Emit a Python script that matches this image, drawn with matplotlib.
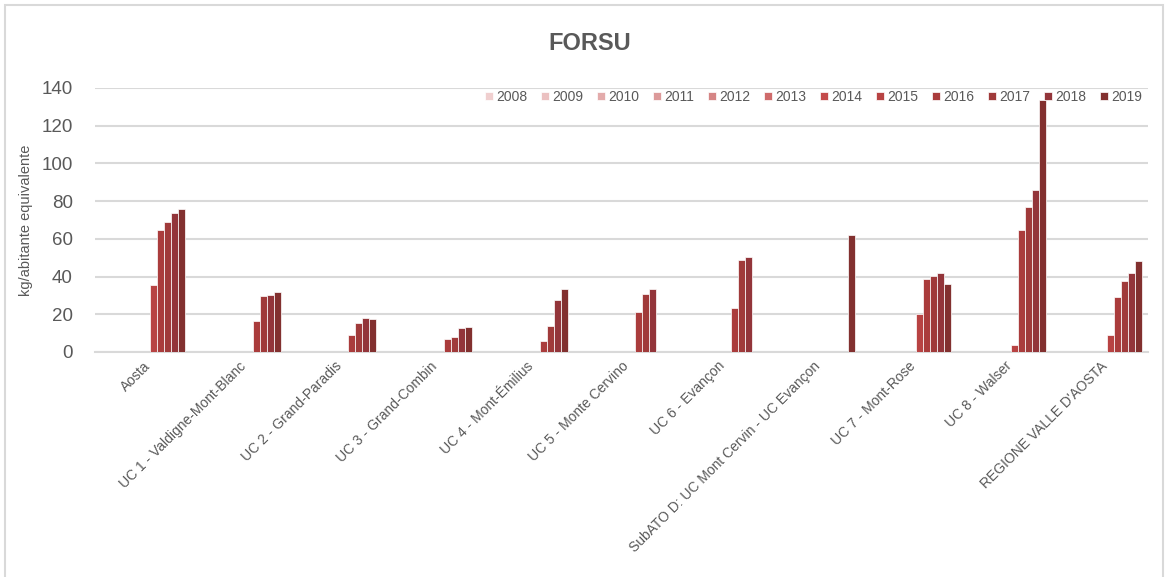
import numpy as np
import matplotlib
matplotlib.use('Agg')
import matplotlib.pyplot as plt
from matplotlib.patches import Rectangle

plt.rcParams['font.family'] = ['Liberation Sans Narrow', 'Liberation Sans', 'DejaVu Sans']

# categorie
zone = ["Aosta", "UC 1 - Valdigne-Mont-Blanc", "UC 2 - Grand-Paradis", "UC 3 - Grand-Combin",
        "UC 4 - Mont-Émilius", "UC 5 - Monte Cervino", "UC 6 - Evançon",
        "SubATO D: UC Mont Cervin - UC Evançon", "UC 7 - Mont-Rose", "UC 8 - Walser",
        "REGIONE VALLE D'AOSTA"]
anni = ['2008', '2009', '2010', '2011', '2012', '2013', '2014',
        '2015', '2016', '2017', '2018', '2019']

# kg/abitante equivalente
v2008 = [0, 0, 0, 0, 0, 0, 0, 0, 0, 0, 0]
v2009 = [0, 0, 0, 0, 0, 0, 0, 0, 0, 0, 0]
v2010 = [0, 0, 0, 0, 0, 0, 0, 0, 0, 0, 0]
v2011 = [0, 0, 0, 0, 0, 0, 0, 0, 0, 0, 0]
v2012 = [0, 0, 0, 0, 0, 0, 0, 0, 0, 0, 0]
v2013 = [0, 0, 0, 0, 0, 0, 0, 0, 0, 0, 0]
v2014 = [0, 0, 0, 0, 0, 0, 0, 0, 0, 0, 0]
v2015 = [35.3, 0, 0, 0, 0, 0, 0, 0, 20.0, 3.6, 9.2]
v2016 = [64.5, 16.4, 8.8, 6.9, 5.8, 21.2, 23.5, 0, 38.5, 64.7, 29.1]
v2017 = [69.2, 29.5, 15.4, 8.1, 13.9, 30.8, 49.0, 0, 40.3, 77.1, 37.4]
v2018 = [73.9, 30.0, 18.2, 12.9, 27.7, 33.6, 50.4, 0, 42.1, 86.0, 42.1]
v2019 = [75.8, 31.8, 17.7, 13.4, 33.6, 0, 0, 62.2, 36.3, 133.9, 48.5]
valori = [v2008, v2009, v2010, v2011, v2012, v2013, v2014,
          v2015, v2016, v2017, v2018, v2019]

colori = ['#F0CFCF', '#EBC1C1', '#E3ABAB', '#DC9A9A', '#D58585', '#CF6B6B',
          '#C44B4B', '#B84343', '#AA3C3C', '#A03A3A', '#93353A', '#82302F']

fig = plt.figure(figsize=(11.7, 5.77), dpi=100)
ax = fig.add_axes([95 / 1170, 1 - 352 / 577, (1148 - 95) / 1170, 264 / 577])

# bordo del grafico
fig.patches.append(Rectangle((5 / 1170, -0.01), 1158 / 1170, 1 - 5 / 577 + 0.01,
                             transform=fig.transFigure, fill=False,
                             edgecolor='#D9D9D9', linewidth=1.5))

x = np.arange(len(zone))
w = 0.0731
for i, anno in enumerate(anni):
    ax.bar(x + (i - 5.5) * w, valori[i], width=w, color=colori[i],
           edgecolor='white', linewidth=0.5, label=anno, zorder=3)

ax.set_xlim(-0.5, len(zone) - 0.5)
ax.set_ylim(0, 140)
ax.set_yticks(range(0, 141, 20))
ax.grid(axis='y', color='#D9D9D9', linewidth=1.5, zorder=0)
ax.set_axisbelow(True)
for s in ['top', 'right', 'left']:
    ax.spines[s].set_visible(False)
ax.spines['bottom'].set_color('#D9D9D9')
ax.spines['bottom'].set_linewidth(1.5)
ax.tick_params(axis='y', length=0, labelsize=13.5, labelcolor='#595959', pad=16)
ax.tick_params(axis='x', length=0, labelsize=10, labelcolor='#595959', pad=5)
ax.set_xticks(x)
ax.set_xticklabels(zone, rotation=45, ha='right', rotation_mode='anchor')

ax.set_ylabel('kg/abitante equivalente', fontsize=10.5, color='#595959')
ax.yaxis.set_label_coords(-0.0589, 0.5)
fig.text(590 / 1170, 1 - 43 / 577, 'FORSU', fontsize=17, fontweight='bold',
         color='#595959', ha='center', va='center')

ax.legend(ncol=12, loc='center right', bbox_to_anchor=(1.0, 0.966), frameon=False,
          fontsize=10, handlelength=0.6, handleheight=0.6, handletextpad=0.25,
          columnspacing=0.95, labelcolor='#595959', borderaxespad=0)

fig.savefig('out.png', dpi=100)
